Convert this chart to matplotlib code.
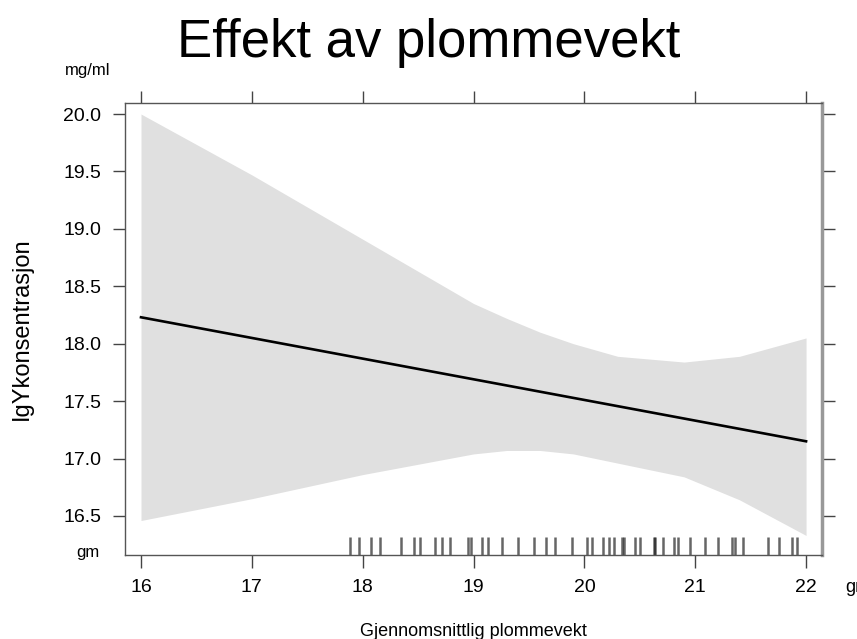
import numpy as np
import matplotlib.pyplot as plt
import matplotlib.transforms as mtransforms

plt.rcParams['font.family'] = ['Liberation Sans', 'DejaVu Sans']

# effekt-kurve og konfidensband
x_fit = [16, 22]
y_fit = [18.23, 17.15]

x_band = [16, 17, 18, 19, 19.3, 19.6, 19.9, 20.3, 20.9, 21.4, 22]
upper = [20.0, 19.47, 18.91, 18.35, 18.22, 18.10, 18.0, 17.89, 17.84, 17.89, 18.05]
lower = [16.46, 16.65, 16.86, 17.04, 17.07, 17.07, 17.04, 16.96, 16.84, 16.64, 16.33]

# observerte plommevekter (rug)
rug = [17.886, 17.970, 18.073, 18.157, 18.347, 18.464, 18.521, 18.653, 18.714,
       18.789, 18.949, 18.976, 19.075, 19.134, 19.255, 19.405, 19.541, 19.655,
       19.736, 19.887, 20.023, 20.068, 20.167, 20.218, 20.263, 20.338, 20.359,
       20.458, 20.503, 20.624, 20.640, 20.708, 20.804, 20.849, 20.949, 21.090,
       21.205, 21.331, 21.361, 21.431, 21.653, 21.752, 21.873, 21.918]

xticks = [16, 17, 18, 19, 20, 21, 22]
yticks = [16.5, 17.0, 17.5, 18.0, 18.5, 19.0, 19.5, 20.0]

fig = plt.figure(figsize=(8.57, 6.39), dpi=100)
ax = fig.add_axes([0.1459, 0.1315, 0.8133, 0.7073])

ax.fill_between(x_band, lower, upper, color='#e0e0e0', linewidth=0)
ax.plot(x_fit, y_fit, color='black', linewidth=1.9)

trans = mtransforms.blended_transform_factory(ax.transData, ax.transAxes)
for r in rug:
    ax.plot([r, r], [0, 0.04], color='black', alpha=0.6, linewidth=1.8,
            transform=trans, solid_capstyle='butt')

ax.set_xlim(15.856, 22.144)
ax.set_ylim(16.16, 20.096)
ax.set_xticks(xticks)
ax.set_yticks(yticks)
ax.set_yticklabels(['%.1f' % t for t in yticks])
ax.tick_params(direction='out', length=9, width=1, color='#444444',
               labelsize=14, top=True, right=True, pad=8)

for s in ['left', 'bottom', 'top']:
    ax.spines[s].set_color('#555555')
    ax.spines[s].set_linewidth(1)
ax.spines['right'].set_color('#999999')
ax.spines['right'].set_linewidth(2.5)

ax.set_xlabel('Gjennomsnittlig plommevekt', fontsize=13, labelpad=20)
ax.set_ylabel('IgYkonsentrasjon', fontsize=17, labelpad=22)
fig.suptitle('Effekt av plommevekt', fontsize=38, y=0.972)

fig.text(88 / 857, 1 - 71 / 639, 'mg/ml', fontsize=12, ha='center', va='center')
fig.text(88 / 857, 1 - 553 / 639, 'gm', fontsize=12, ha='center', va='center')
fig.text(845 / 857, 1 - 588 / 639, 'gm', fontsize=13, ha='left', va='center')

fig.savefig('out.png', dpi=100)
